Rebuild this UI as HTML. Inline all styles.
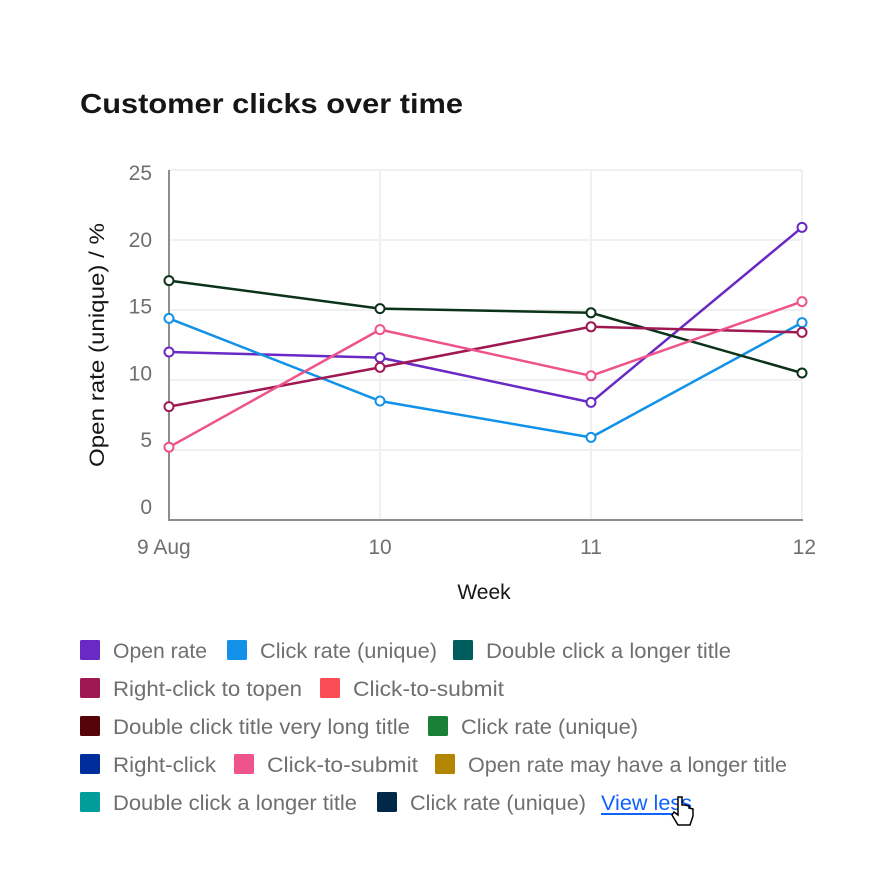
<!DOCTYPE html>
<html><head><meta charset="utf-8"><style>
body{margin:0;background:#fff;}
svg{display:block;font-family:"Liberation Sans",sans-serif;}
</style></head><body>
<svg width="896" height="896" viewBox="0 0 896 896">
<rect width="896" height="896" fill="#fff"/>
<text x="80" y="113" font-size="28" font-weight="bold" fill="#161616" textLength="383" lengthAdjust="spacingAndGlyphs">Customer clicks over time</text>
<g id="grid"></g>
<g id="yticks"></g>
<g id="xticks"></g>
<line x1="169" y1="170" x2="169" y2="520" stroke="#8d8d8d" stroke-width="2"/>
<line x1="168" y1="520" x2="803" y2="520" stroke="#8d8d8d" stroke-width="2"/>
<text transform="translate(104,345) rotate(-90)" text-anchor="middle" font-size="21" fill="#161616" textLength="244" lengthAdjust="spacingAndGlyphs">Open rate (unique) / %</text>
<text x="484" y="599" text-anchor="middle" font-size="21" fill="#161616">Week</text>
<g id="series"></g>
<g id="legend"></g>
<text x="601" y="810" font-size="21" fill="#0f62fe" textLength="91" lengthAdjust="spacingAndGlyphs">View less</text>
<line x1="601" y1="814" x2="692" y2="814" stroke="#0f62fe" stroke-width="2"/>
<path d="M678 797 v18 l-4 -3 l-2 3 l6 10 h12 l3 -9 v-7 l-4 -1 v-2 l-4 -1 l-3 0 v-8 z" fill="#fff" stroke="#000" stroke-width="1.5"/>
</svg>
<script>
const categories = ["9 Aug","10","11","12"];
const yTicks = [0,5,10,15,20,25];
const seriesNames = ["Open rate","Click rate (unique)","Double click a longer title","Right-click to topen","Click-to-submit"];
const seriesColors = ["#6929c4","#1192e8","#0b3319","#9f1853","#ee538b"];
const openRate = [12.0,11.6,8.4,20.9];
const clickRate = [14.4,8.5,5.9,14.1];
const doubleClick = [17.1,15.1,14.8,10.5];
const rightClick = [8.1,10.9,13.8,13.4];
const clickToSubmit = [5.2,13.6,10.3,15.6];
const seriesValues = [openRate,clickRate,doubleClick,rightClick,clickToSubmit];
const legendLabels = ["Open rate","Click rate (unique)","Double click a longer title","Right-click to topen","Click-to-submit","Double click title very long title","Click rate (unique)","Right-click","Click-to-submit","Open rate may have a longer title","Double click a longer title","Click rate (unique)"];
const legendColors = ["#6929c4","#1192e8","#005d5d","#9f1853","#fa4d56","#570408","#198038","#002d9c","#ee538b","#b28600","#009d9a","#012749"];
const legendX = [80,227,453,80,320,80,428,80,234,435,80,377];
const legendRow = [0,0,0,1,1,2,2,3,3,3,4,4];
const legendW = [94,177,245,189,151,297,177,103,151,319,244,176];
const NS="http://www.w3.org/2000/svg";
const x0=169,x1=802,yBase=520,yTop=170;
const xs=i=>x0+(x1-x0)*i/(categories.length-1);
const ys=v=>yBase-(yBase-yTop)*v/25;
function mk(t,a,p){const e=document.createElementNS(NS,t);for(const k in a)e.setAttribute(k,a[k]);p.appendChild(e);return e;}
const grid=document.getElementById('grid'),yt=document.getElementById('yticks'),xt=document.getElementById('xticks');
yTicks.forEach((v,i)=>{
 if(v>0){const l=mk('line',{x1:x0,x2:x1,y1:ys(v),y2:ys(v),stroke:'#f0f0f0','stroke-width':2},grid);
 
 }
 const ly=506-(506-172)*i/(yTicks.length-1);
 const t=mk('text',{x:152,y:ly+8,'text-anchor':'end','font-size':21,fill:'#6f6f6f'},yt);t.textContent=v;
 
 
});
categories.forEach((c,i)=>{
 if(i>0){const l=mk('line',{x1:xs(i),x2:xs(i),y1:yTop,y2:yBase,stroke:'#f0f0f0','stroke-width':2},grid);
 
 }
 const t=mk('text',{x:i==0?137:xs(i),y:554,'text-anchor':i==0?'start':(i==categories.length-1?'end':'middle'),'font-size':21,fill:'#6f6f6f'},xt);
 if(i==categories.length-1)t.setAttribute('x',xs(i)+14);
 t.textContent=c;
 
 
});
const sg=document.getElementById('series');
seriesValues.forEach((vals,s)=>{
 const g=mk('g',{},sg);
 
 
 const pl=mk('polyline',{points:vals.map((v,i)=>xs(i)+','+ys(v)).join(' '),fill:'none',stroke:seriesColors[s],'stroke-width':2.5},g);
 
 
 vals.forEach((v,i)=>{
  const c=mk('circle',{cx:xs(i),cy:ys(v),r:4.5,fill:'#fff',stroke:seriesColors[s],'stroke-width':2},g);
  
  
 });
});
const lg=document.getElementById('legend');
legendLabels.forEach((lab,i)=>{
 const y=640+legendRow[i]*38;
 const g=mk('g',{},lg);
 
 
 const r=mk('rect',{x:legendX[i],y:y,width:20,height:20,rx:1.5,fill:legendColors[i]},g);
 
 
 const t=mk('text',{x:legendX[i]+33,y:y+18,'font-size':21,fill:'#6f6f6f',textLength:legendW[i],lengthAdjust:'spacingAndGlyphs'},g);
 t.textContent=lab;
 
 
});
</script>
</body></html>
